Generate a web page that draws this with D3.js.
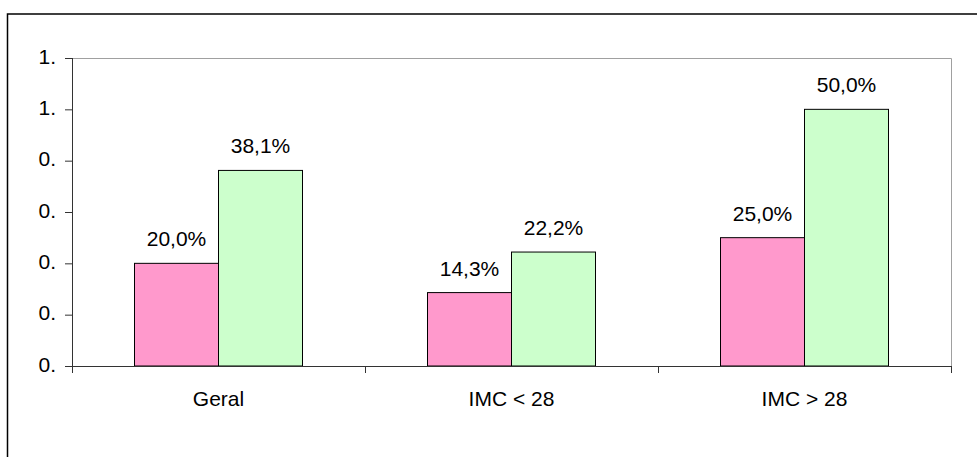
<!DOCTYPE html>
<html>
<head>
<meta charset="utf-8">
<script src="https://cdn.jsdelivr.net/npm/d3@7"></script>
<style>
  body { margin: 0; background: #fff; }
  text { font-family: "Liberation Sans", Arial, sans-serif; }
</style>
</head>
<body>
<div id="chart"></div>
<script>
var categories = ["Geral", "IMC < 28", "IMC > 28"];
var seriesA = [0.200, 0.143, 0.250];
var seriesB = [0.381, 0.222, 0.500];
var labelsA = ["20,0%", "14,3%", "25,0%"];
var labelsB = ["38,1%", "22,2%", "50,0%"];
var tickValues = [0, 0.1, 0.2, 0.3, 0.4, 0.5, 0.6];
var tickLabels = ["0.", "0.", "0.", "0.", "0.", "1.", "1."];

var W = 977, H = 457;
var Margin = {top: 58, right: 26, bottom: 91, left: 72};
var InnerWidth = W - Margin.left - Margin.right;
var InnerHeight = H - Margin.top - Margin.bottom;

var svg = d3.select("#chart").append("svg")
    .attr("width", W)
    .attr("height", H);

// outer frame (runs off right/bottom edge)
svg.append("rect")
   .attr("x", 7.5).attr("y", 14)
   .attr("width", W + 10).attr("height", H + 10)
   .style("fill", "none")
   .style("stroke", "#000")
   .style("stroke-width", 1.5);

var g = svg.append("g")
    .attr("transform", "translate(" + Margin.left + "," + Margin.top + ")");

var x = d3.scaleBand().domain(categories).range([0, InnerWidth]);
var y = d3.scaleLinear().domain([0, 0.6]).range([InnerHeight, 0]);

// plot area border (top/right grey)
g.append("path")
 .attr("d", "M0,0.5H" + (InnerWidth + 0.5) + "V" + InnerHeight)
 .style("fill", "none")
 .style("stroke", "#a0a0a0");

var barW = 84;
var data = categories.map(function(c, i) {
  return {cat: c, a: seriesA[i], b: seriesB[i], la: labelsA[i], lb: labelsB[i]};
});

var grp = g.selectAll(".grp").data(data).enter().append("g")
    .attr("transform", function(d) { return "translate(" + (x(d.cat) + x.bandwidth() / 2) + ",0)"; });

grp.append("rect")
   .attr("x", -barW).attr("width", barW)
   .attr("y", function(d) { return y(d.a); })
   .attr("height", function(d) { return y(0) - y(d.a); })
   .style("fill", "#ff99cc").style("stroke", "#000").style("stroke-width", 1);

grp.append("rect")
   .attr("x", 0).attr("width", barW)
   .attr("y", function(d) { return y(d.b); })
   .attr("height", function(d) { return y(0) - y(d.b); })
   .style("fill", "#ccffcc").style("stroke", "#000").style("stroke-width", 1);

grp.append("text")
   .attr("x", -barW / 2)
   .attr("y", function(d) { return y(d.a) - 17; })
   .attr("text-anchor", "middle")
   .style("font-size", "21px")
   .text(function(d) { return d.la; });

grp.append("text")
   .attr("x", barW / 2)
   .attr("y", function(d) { return y(d.b) - 17; })
   .attr("text-anchor", "middle")
   .style("font-size", "21px")
   .text(function(d) { return d.lb; });

// y axis
var yAxis = g.append("g")
    .call(d3.axisLeft(y).tickValues(tickValues).tickSize(7).tickPadding(9)
      .tickFormat(function(d, i) { return tickLabels[i]; }));
yAxis.select(".domain").attr("d", "M0.5,0V" + (InnerHeight + 7));
yAxis.selectAll("line, .domain").style("stroke", "#333");
yAxis.selectAll("text").attr("dy", "0.24em").style("font-size", "21px").style("fill", "#000");

// x axis
var xAxis = g.append("g")
    .attr("transform", "translate(0," + InnerHeight + ")")
    .call(d3.axisBottom(x).tickSize(0).tickPadding(25));
xAxis.select(".domain").attr("d", "M0,0.5H" + InnerWidth).style("stroke", "#333");
xAxis.selectAll("text").style("font-size", "21px").style("fill", "#000");
xAxis.selectAll(".sep").data(categories.slice(1).concat(["end"])).enter().append("line")
    .attr("x1", function(d, i) { return Math.round(x.step() * (i + 1)) + 0.5; })
    .attr("x2", function(d, i) { return Math.round(x.step() * (i + 1)) + 0.5; })
    .attr("y1", 0).attr("y2", 7)
    .style("stroke", "#333");
</script>
</body>
</html>
